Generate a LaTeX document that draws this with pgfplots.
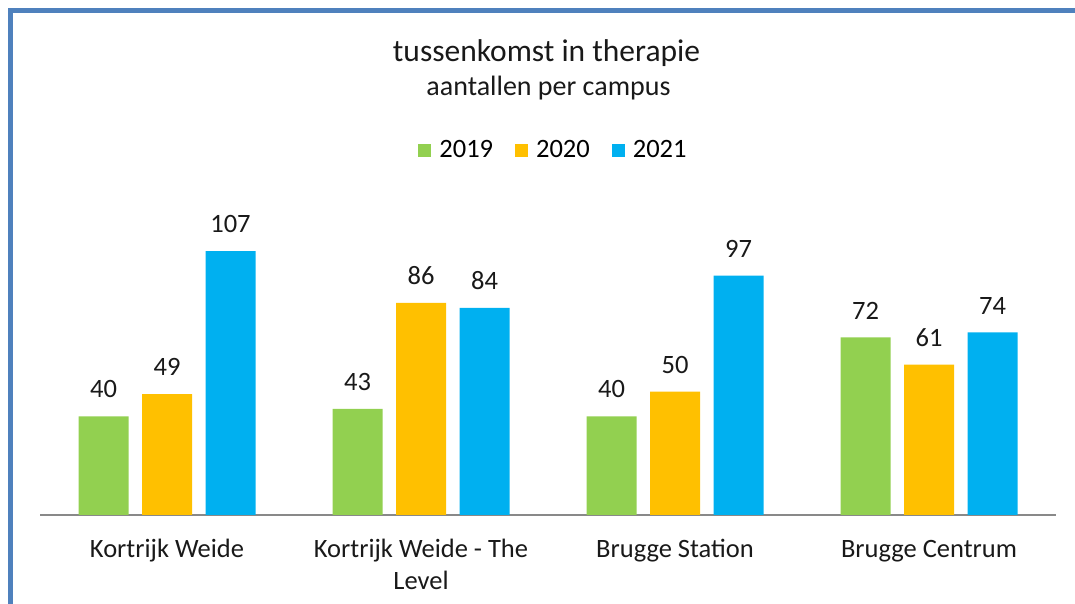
\documentclass[border=0pt]{standalone}
\usepackage{pgfplots}
\pgfplotsset{compat=1.18}
\usepackage{fontspec}
\setmainfont{Carlito}
\definecolor{c19}{HTML}{92D050}
\definecolor{c20}{HTML}{FFC000}
\definecolor{c21}{HTML}{00B0F0}
\definecolor{frame}{HTML}{4F81BD}
\definecolor{axisgray}{HTML}{898989}
\newcommand{\lab}{\fontsize{26.5}{32}\selectfont}
\begin{document}
\begin{tikzpicture}[x=1pt,y=1pt]
\path[use as bounding box] (0pt,0pt) rectangle (1075pt,604pt);
\draw[line width=5pt, color=frame] (10.5pt,0pt) -- (10.5pt,593.5pt) -- (1075pt,593.5pt);
\node[font=\fontsize{31.5}{34}\selectfont, anchor=base, inner sep=0, color=black!90] at (546.5pt,542pt) {tussenkomst in therapie};
\node[font=\fontsize{28}{32}\selectfont, anchor=base, inner sep=0, color=black!90] at (548.5pt,508pt) {aantallen per campus};
\begin{axis}[
  at={(40pt,89pt)}, anchor=south west,
  scale only axis, width=1016pt, height=320.7pt,
  xmin=-0.5, xmax=3.5, ymin=0, ymax=130,
  ybar, bar width=50pt,
  hide y axis,
  axis x line*=bottom,
  x axis line style={-, color=axisgray, line width=2pt},
  xtick={0,1,2,3},
  xticklabels={\strut Kortrijk Weide, {\strut Kortrijk Weide - The\\Level}, \strut Brugge Station, \strut Brugge Centrum},
  xticklabel style={font=\lab, align=center, anchor=north, inner sep=0pt, yshift=-19.6pt, color=black!90},
  major tick length=0pt,
  /pgf/number format/assume math mode=true,
  nodes near coords,
  every node near coord/.append style={font=\lab, anchor=south, inner sep=0pt, yshift=18pt, color=black!90},
  legend style={at={(0.5054,1.138)}, anchor=center, draw=none, fill=none, font=\lab,
    legend columns=3, /tikz/every even column/.append style={column sep=20pt},
    legend cell align=left, inner sep=0pt},
  legend image code/.code={\fill[#1, draw=none] (0pt,-6.5pt) rectangle (13pt,6.5pt); \path (19pt,0pt);},
]
\addplot[fill=c19, draw=none, bar shift=-63.5pt] coordinates {(0,40) (1,43) (2,40) (3,72)};
\addplot[fill=c20, draw=none, bar shift=0pt] coordinates {(0,49) (1,86) (2,50) (3,61)};
\addplot[fill=c21, draw=none, bar shift=63.5pt] coordinates {(0,107) (1,84) (2,97) (3,74)};
\legend{2019,2020,2021}
\end{axis}
\end{tikzpicture}
\end{document}
